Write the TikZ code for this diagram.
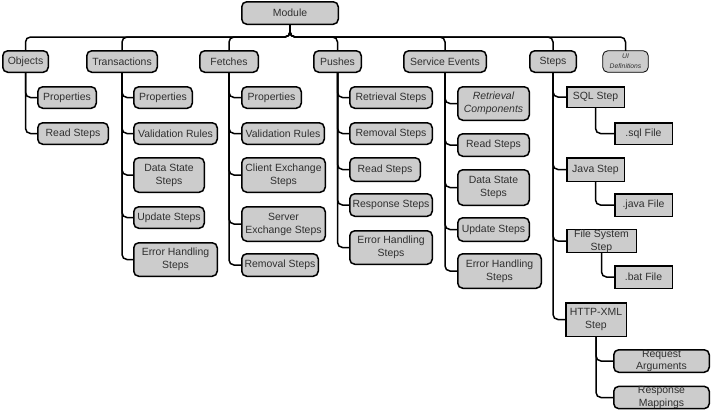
\documentclass[tikz,border=0pt]{standalone}
\usepackage{fontspec}
\setmainfont{Liberation Sans}
\definecolor{boxgray}{HTML}{CCCCCC}
\definecolor{txtgray}{HTML}{303030}
\tikzset{
  box/.style={draw=black, fill=boxgray, line width=1.5bp, rounded corners=5bp,
    inner sep=0pt, outer sep=0pt, align=center, text=txtgray,
    font=\fontsize{10.5}{13}\selectfont},
  sbox/.style={sharp corners},
  uibox/.style={line width=0.8bp, font=\fontsize{6.8}{10}\selectfont\itshape},
  conn/.style={draw=black, line width=1.5bp, rounded corners=5bp},
}
\newcommand\mkbox[7][]{\node[box,#1,minimum width={(#5-#3-1.5)*1bp},minimum height={(#6-#4-1.5)*1bp}] (#2) at ({(#3+#5)/2},{(#4+#6)/2}) {#7};}
\begin{document}
\begin{tikzpicture}[x=1bp,y=-1bp]
\useasboundingbox (0,0) rectangle (711,411);
% top
\mkbox{mod}{241}{1}{339}{25}{Module}
\mkbox{obj}{2}{50}{49}{73}{Objects}
\mkbox{trn}{86}{50}{158}{73}{Transactions}
\mkbox{fet}{199}{50}{259}{73}{Fetches}
\mkbox{pus}{313}{50}{362}{73}{Pushes}
\mkbox{sev}{403}{50}{487}{73}{Service Events}
\mkbox{stp}{529}{50}{577}{73}{Steps}
\mkbox[uibox]{uid}{602}{50}{649}{73}{UI\\Definitions}
% objects
\mkbox{objp}{37}{86}{97}{109}{Properties}
\mkbox{objr}{37}{122}{109}{145}{Read Steps}
% transactions
\mkbox{trnp}{133}{86}{193}{109}{Properties}
\mkbox{trnv}{133}{122}{218}{145}{Validation Rules}
\mkbox{trnd}{133}{157}{205}{193}{Data State\\Steps}
\mkbox{trnu}{133}{206}{205}{229}{Update Steps}
\mkbox{trne}{133}{242}{218}{277}{Error Handling\\Steps}
% fetches
\mkbox{fetp}{241}{86}{302}{109}{Properties}
\mkbox{fetv}{241}{122}{325}{145}{Validation Rules}
\mkbox{fetc}{241}{157}{326}{193}{Client Exchange\\Steps}
\mkbox{fets}{241}{206}{326}{242}{Server\\Exchange Steps}
\mkbox{fetr}{241}{253}{319}{277}{Removal Steps}
% pushes
\mkbox{pusr}{349}{86}{433}{109}{Retrieval Steps}
\mkbox{pusm}{349}{122}{433}{145}{Removal Steps}
\mkbox{pusd}{349}{157}{421}{182}{Read Steps}
\mkbox{puss}{349}{193}{433}{217}{Response Steps}
\mkbox{puse}{349}{230}{433}{265}{Error Handling\\Steps}
% service events
\mkbox[font=\fontsize{10.5}{13}\selectfont\itshape]{sevr}{457}{86}{530}{121}{Retrieval\\Components}
\mkbox{sevd}{457}{133}{530}{157}{Read Steps}
\mkbox{sevs}{457}{169}{530}{206}{Data State\\Steps}
\mkbox{sevu}{457}{217}{530}{242}{Update Steps}
\mkbox{seve}{457}{253}{542}{289}{Error Handling\\Steps}
% steps
\mkbox[sbox]{sql}{566}{86}{625}{108}{SQL Step}
\mkbox[sbox]{sqlf}{614}{122}{673}{145}{.sql File}
\mkbox[sbox]{java}{566}{157}{625}{182}{Java Step}
\mkbox[sbox]{javaf}{614}{193}{673}{217}{.java File}
\mkbox[sbox]{fs}{566}{229}{637}{253}{File System\\Step}
\mkbox[sbox]{bat}{614}{265}{673}{289}{.bat File}
\mkbox[sbox]{http}{565}{302}{627}{337}{HTTP-XML\\Step}
\mkbox{req}{613}{349}{710}{373}{Request\\Arguments}
\mkbox{resp}{613}{386}{710}{409}{Response\\Mappings}
% bus
\coordinate (bus) at (290,37);
\foreach \n in {obj,trn,fet,pus,sev,stp,uid}
  \draw[conn] (mod.south) -- (bus) -| (\n.north);
% children
\foreach \p/\c in {obj/objp,obj/objr,
  trn/trnp,trn/trnv,trn/trnd,trn/trnu,trn/trne,
  fet/fetp,fet/fetv,fet/fetc,fet/fets,fet/fetr,
  pus/pusr,pus/pusm,pus/pusd,pus/puss,pus/puse,
  sev/sevr,sev/sevd,sev/sevs,sev/sevu,sev/seve,
  stp/sql,stp/java,stp/fs,stp/http,
  sql/sqlf,java/javaf,fs/bat,http/req,http/resp}
  \draw[conn] (\p.south) |- (\c.west);
\end{tikzpicture}
\end{document}
